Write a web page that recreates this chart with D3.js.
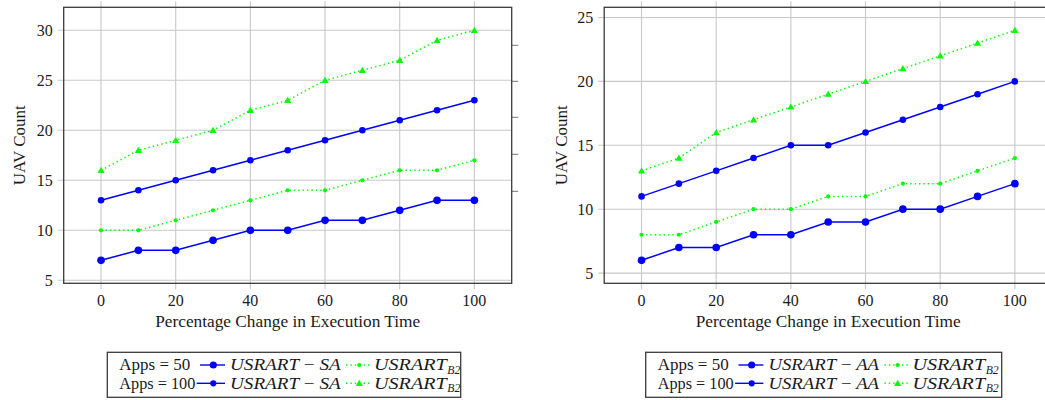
<!DOCTYPE html>
<html>
<head>
<meta charset="utf-8">
<script src="https://cdn.jsdelivr.net/npm/d3@7"></script>
<style>
  html, body { margin: 0; padding: 0; background: #fff; }
  svg { display: block; }
  text { font-family: "Liberation Serif", "DejaVu Serif", serif; fill: #1a1a1a; }
</style>
</head>
<body>
<svg id="chart" width="1045" height="400"></svg>
<script>
// ---------- data ----------
const xValues = [0, 10, 20, 30, 40, 50, 60, 70, 80, 90, 100];
const xTicks = [0, 20, 40, 60, 80, 100];

// Left panel (SA)
const leftSA50   = [7, 8, 8, 9, 10, 10, 11, 11, 12, 13, 13];
const leftB2_50  = [10, 10, 11, 12, 13, 14, 14, 15, 16, 16, 17];
const leftSA100  = [13, 14, 15, 16, 17, 18, 19, 20, 21, 22, 23];
const leftB2_100 = [16, 18, 19, 20, 22, 23, 25, 26, 27, 29, 30];
const leftYTicks = [5, 10, 15, 20, 25, 30];
const leftRightTicks = [28.5, 24.9, 21.3, 17.6, 13.9];

// Right panel (AA)
const rightAA50   = [6, 7, 7, 8, 8, 9, 9, 10, 10, 11, 12];
const rightB2_50  = [8, 8, 9, 10, 10, 11, 11, 12, 12, 13, 14];
const rightAA100  = [11, 12, 13, 14, 15, 15, 16, 17, 18, 19, 20];
const rightB2_100 = [13, 14, 16, 17, 18, 19, 20, 21, 22, 23, 24];
const rightYTicks = [5, 10, 15, 20, 25];

const xLabel = "Percentage Change in Execution Time";
const yLabel = "UAV Count";
const legendRows = ["Apps = 50", "Apps = 100"];

// ---------- drawing ----------
const svg = d3.select("#chart");
const BLUE = "#0000ff", GREEN = "#00ff00", GRID = "#c8c8c8", FRAME = "#3a3a3a";

function drawPanel(cfg) {
  const g = svg.append("g");
  const x = d3.scaleLinear().domain([-10, 110]).range([cfg.left, cfg.right]);
  const y = d3.scaleLinear().domain(cfg.yDomain).range([cfg.bottom, cfg.top]);

  const clipId = "clip" + cfg.id;
  svg.append("clipPath").attr("id", clipId).append("rect")
    .attr("x", cfg.left).attr("y", cfg.top - 4)
    .attr("width", cfg.right - cfg.left).attr("height", cfg.bottom - cfg.top + 8);

  // grid
  g.append("g").selectAll("line").data(xTicks).join("line")
    .attr("x1", d => x(d)).attr("x2", d => x(d))
    .attr("y1", cfg.top - 6).attr("y2", cfg.bottom + 6)
    .attr("stroke", GRID).attr("stroke-width", 1.1);
  g.append("g").selectAll("line").data(cfg.yTicks).join("line")
    .attr("x1", cfg.left - 6).attr("x2", cfg.right)
    .attr("y1", d => y(d)).attr("y2", d => y(d))
    .attr("stroke", GRID).attr("stroke-width", 1.1);

  // extra right ticks
  if (cfg.rightTicks) {
    g.append("g").selectAll("line").data(cfg.rightTicks).join("line")
      .attr("x1", cfg.right).attr("x2", cfg.right + 6.5)
      .attr("y1", d => y(d)).attr("y2", d => y(d))
      .attr("stroke", "#777").attr("stroke-width", 1);
  }

  // frame
  g.append("rect")
    .attr("x", cfg.left).attr("y", cfg.top)
    .attr("width", cfg.right - cfg.left).attr("height", cfg.bottom - cfg.top)
    .attr("fill", "none").attr("stroke", FRAME).attr("stroke-width", 1.3);

  // tick labels
  g.append("g").selectAll("text").data(xTicks).join("text")
    .attr("x", d => x(d)).attr("y", cfg.bottom + 23)
    .attr("text-anchor", "middle").attr("font-size", 16).text(d => d);
  g.append("g").selectAll("text").data(cfg.yTicks).join("text")
    .attr("x", cfg.left - 11).attr("y", d => y(d) + 5.5)
    .attr("text-anchor", "end").attr("font-size", 16).text(d => d);

  // axis labels
  g.append("text")
    .attr("x", (cfg.left + cfg.right) / 2).attr("y", cfg.bottom + 44)
    .attr("text-anchor", "middle").attr("font-size", 16)
    .attr("textLength", 265).attr("lengthAdjust", "spacingAndGlyphs")
    .text(xLabel);
  g.append("text")
    .attr("transform", `translate(${cfg.yLabelX},${(cfg.top + cfg.bottom) / 2}) rotate(-90)`)
    .attr("text-anchor", "middle").attr("font-size", 16)
    .attr("textLength", 80).attr("lengthAdjust", "spacingAndGlyphs")
    .text(yLabel);

  // series
  const plot = g.append("g").attr("clip-path", `url(#${clipId})`);
  const line = d3.line().x((d, i) => x(xValues[i])).y(d => y(d));

  function series(vals, color, dotted, marker, size) {
    plot.append("path").datum(vals)
      .attr("d", line).attr("fill", "none").attr("stroke", color)
      .attr("stroke-width", 1.5)
      .attr("stroke-dasharray", dotted ? "1.4 3" : null);
    const sym = d3.symbol().type(marker === "tri" ? d3.symbolTriangle : d3.symbolCircle).size(size);
    plot.append("g").selectAll("path").data(vals).join("path")
      .attr("transform", (d, i) => `translate(${x(xValues[i])},${y(d) + (marker === "tri" ? 0.6 : 0)})`)
      .attr("d", sym).attr("fill", color);
  }
  series(cfg.s50, BLUE, false, "circle", 46);
  series(cfg.b50, GREEN, true, "circle", 14);
  series(cfg.s100, BLUE, false, "circle", 34);
  series(cfg.b100, GREEN, true, "tri", 22);

  // legend
  const L = cfg.legendLeft, T = 352.3;
  const lg = svg.append("g");
  lg.append("rect").attr("x", L).attr("y", T).attr("width", cfg.legendWidth).attr("height", 45)
    .attr("fill", "#fff").attr("stroke", FRAME).attr("stroke-width", 1.3);
  const rowsY = [365, 383.3];
  const markers = [["circle", 40, "circle", 14], ["circle", 30, "tri", 22]];
  legendRows.forEach((label, r) => {
    const cy = rowsY[r];
    lg.append("text").attr("x", L + 12).attr("y", cy + 5.2).attr("font-size", 16)
      .attr("textLength", r === 0 ? 71 : 76).attr("lengthAdjust", "spacingAndGlyphs").text(label);
    const s0 = r === 0 ? 92.7 : 89.4;
    lg.append("line").attr("x1", L + s0).attr("x2", L + 117.7).attr("y1", cy).attr("y2", cy)
      .attr("stroke", BLUE).attr("stroke-width", 1.4);
    lg.append("path").attr("transform", `translate(${L + 106},${cy})`)
      .attr("d", d3.symbol().type(d3.symbolCircle).size(markers[r][1])).attr("fill", BLUE);
    const t2 = lg.append("text").attr("x", L + 122.7).attr("y", cy + 5.2).attr("font-size", 16)
      .attr("textLength", 110.7).attr("lengthAdjust", "spacingAndGlyphs");
    t2.append("tspan").attr("font-style", "italic").text("USRART");
    t2.append("tspan").text(" \u2212 ");
    t2.append("tspan").attr("font-style", "italic").text(cfg.tag);
    lg.append("line").attr("x1", L + 238.7).attr("x2", L + 262.7).attr("y1", cy).attr("y2", cy)
      .attr("stroke", GREEN).attr("stroke-width", 1.4).attr("stroke-dasharray", "1.4 3");
    lg.append("path").attr("transform", `translate(${L + 252},${cy + (markers[r][2] === "tri" ? 0.6 : 0)})`)
      .attr("d", d3.symbol().type(markers[r][2] === "tri" ? d3.symbolTriangle : d3.symbolCircle).size(markers[r][3]))
      .attr("fill", GREEN);
    lg.append("text").attr("x", L + 266.7).attr("y", cy + 5.2).attr("font-size", 16)
      .attr("font-style", "italic").attr("textLength", 72.7).attr("lengthAdjust", "spacingAndGlyphs")
      .text("USRART");
    lg.append("text").attr("x", L + 340).attr("y", cy + 8.5).attr("font-size", 11.5)
      .attr("font-style", "italic").attr("textLength", 13).attr("lengthAdjust", "spacingAndGlyphs")
      .text("B2");
  });
}

drawPanel({
  id: "L", left: 63.7, right: 511.7, top: 7.3, bottom: 283.3,
  yDomain: [4.7, 32.3], yTicks: leftYTicks, rightTicks: leftRightTicks,
  s50: leftSA50, b50: leftB2_50, s100: leftSA100, b100: leftB2_100,
  yLabelX: 25, tag: "SA", legendLeft: 107.3, legendWidth: 353.4
});
drawPanel({
  id: "R", left: 604.2, right: 1052.2, top: 7.3, bottom: 283.3,
  yDomain: [4.2, 25.8], yTicks: rightYTicks, rightTicks: null,
  s50: rightAA50, b50: rightB2_50, s100: rightAA100, b100: rightB2_100,
  yLabelX: 567, tag: "AA", legendLeft: 645.7, legendWidth: 356
});
</script>
</body>
</html>
